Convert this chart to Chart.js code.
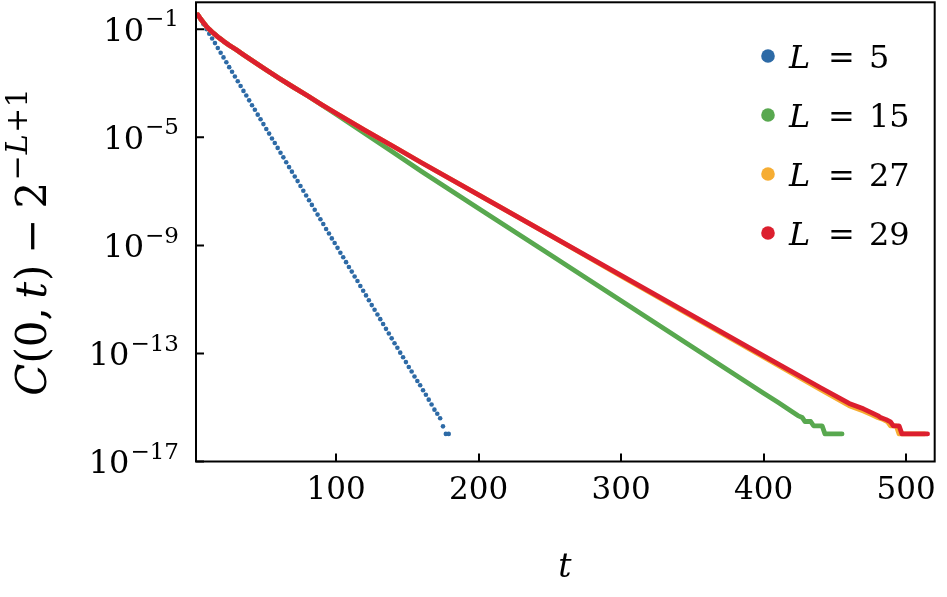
<!DOCTYPE html>
<html><head><meta charset="utf-8">
<script src="https://cdn.jsdelivr.net/npm/chart.js@4.4.1/dist/chart.umd.min.js"></script>
<style>html,body{margin:0;padding:0;background:#fff;}#wrap{width:947px;height:597px;}</style>
</head><body><div id="wrap"><canvas id="c" width="947" height="597"></canvas></div>
<script>
// ---- data (t, C(0,t) - 2^(-L+1)) ----
const tL5 = [3,5,7,9,11,13,15,17,19,21,23,25,27,29,31,33,35,37,39,41,43,45,47,49,51,53,55,57,59,61,63,65,67,69,71,73,75,77,79,81,83,85,87,89,91,93,95,97,99,101,103,105,107,109,111,113,115,117,119,121,123,125,127,129,131,133,135,137,139,141,143,145,147,149,151,153,155,157,159,161,163,165,167,169,171,173,175,177,179];
const cL5 = [3.47e-1,2.34e-1,1.55e-1,1.02e-1,6.92e-2,4.57e-2,3.09e-2,2.04e-2,1.35e-2,9.12e-3,6.03e-3,3.98e-3,2.69e-3,1.78e-3,1.20e-3,7.94e-4,5.25e-4,3.55e-4,2.34e-4,1.55e-4,1.05e-4,6.92e-5,4.68e-5,3.09e-5,2.04e-5,1.38e-5,9.12e-6,6.17e-6,4.07e-6,2.69e-6,1.82e-6,1.20e-6,7.94e-7,5.37e-7,3.55e-7,2.40e-7,1.58e-7,1.05e-7,7.08e-8,4.68e-8,3.16e-8,2.09e-8,1.38e-8,9.33e-9,6.17e-9,4.07e-9,2.75e-9,1.82e-9,1.23e-9,8.13e-10,5.37e-10,3.63e-10,2.40e-10,1.58e-10,1.07e-10,7.08e-11,4.79e-11,3.16e-11,2.09e-11,1.41e-11,9.33e-12,6.17e-12,4.17e-12,2.75e-12,1.86e-12,1.23e-12,8.13e-13,5.50e-13,3.63e-13,2.40e-13,1.62e-13,1.07e-13,7.24e-14,4.79e-14,3.16e-14,2.14e-14,1.41e-14,9.55e-15,6.61e-15,4.37e-15,2.95e-15,1.95e-15,1.29e-15,8.32e-16,5.89e-16,3.98e-16,2.00e-16,1.05e-16,1.05e-16];

const tL15 = [3,5,7,9,11,13,15,17,19,21,25,30,35,40,50,60,70,80,90,100,120,140,160,200,250,300,350,400,410,420,424,427,429,433,435,441,443,455];
const cL15 = [3.47e-1,2.40e-1,1.74e-1,1.29e-1,1.00e-1,7.94e-2,6.46e-2,5.25e-2,4.37e-2,3.63e-2,2.57e-2,1.74e-2,1.15e-2,7.59e-3,3.39e-3,1.55e-3,7.24e-4,3.47e-4,1.58e-4,7.16e-5,1.41e-5,2.82e-6,5.50e-7,2.34e-8,4.57e-10,8.91e-12,1.74e-13,3.39e-15,1.55e-15,6.92e-16,5.01e-16,4.27e-16,3.02e-16,3.02e-16,2.1e-16,2.1e-16,1.05e-16,1.05e-16];

const tL27 = [3,5,7,9,11,13,15,17,19,21,25,30,35,40,50,60,70,80,90,100,120,140,160,200,250,300,350,400,440,460,470,476,480,484,487,489,493,495,513];
const cL27 = [3.47e-1,2.40e-1,1.74e-1,1.29e-1,1.00e-1,7.94e-2,6.46e-2,5.25e-2,4.37e-2,3.63e-2,2.57e-2,1.74e-2,1.15e-2,7.59e-3,3.39e-3,1.55e-3,7.24e-4,3.47e-4,1.62e-4,7.76e-5,1.86e-5,4.68e-6,1.15e-6,7.41e-8,2.40e-9,7.24e-11,2.29e-12,7.24e-14,4.57e-15,1.17e-15,7.41e-16,5.37e-16,4.27e-16,3.55e-16,2.95e-16,2.1e-16,2.1e-16,1.05e-16,1.05e-16];

const tL29 = [3,5,7,9,11,13,15,17,19,21,25,30,35,40,50,60,70,80,90,100,120,140,160,200,250,300,350,400,440,460,470,476,480,482,486,489,491,495,497,515];
const cL29 = [3.47e-1,2.40e-1,1.74e-1,1.29e-1,1.00e-1,7.94e-2,6.46e-2,5.25e-2,4.37e-2,3.63e-2,2.57e-2,1.74e-2,1.15e-2,7.59e-3,3.39e-3,1.55e-3,7.24e-4,3.47e-4,1.62e-4,7.76e-5,1.86e-5,4.68e-6,1.15e-6,7.41e-8,2.40e-9,7.76e-11,2.51e-12,8.13e-14,5.37e-15,1.41e-15,8.91e-16,6.31e-16,5.01e-16,4.27e-16,3.55e-16,2.95e-16,2.1e-16,2.1e-16,1.05e-16,1.05e-16];

const seriesL = ['5','15','27','29'];
const xTickValues = [100,200,300,400,500];
const yTickExponents = [-1,-5,-9,-13,-17];

// ---- styling ----
const COLORS = ['#2d6aa6','#58a84f','#f6ad33','#dc1f2e'];
const SERIF = '"DejaVu Serif", "Liberation Serif", serif';
const TICK_SIZE = 31;
const YTICK_SIZE = 32;

const pts = (ts, cs) => ts.map((t, i) => ({x: t, y: cs[i]}));

const datasets = [
  {label: 'L = ' + seriesL[0], data: pts(tL5, cL5), showLine: false, pointRadius: 2.3, pointHoverRadius: 2.3, pointBorderWidth: 0,
   pointBackgroundColor: COLORS[0], borderColor: COLORS[0], backgroundColor: COLORS[0], order: 4},
  {label: 'L = ' + seriesL[1], data: pts(tL15, cL15), showLine: true, borderWidth: 4.8, pointRadius: 0,
   borderColor: COLORS[1], backgroundColor: COLORS[1], borderCapStyle: 'round', borderJoinStyle: 'round', order: 3},
  {label: 'L = ' + seriesL[2], data: pts(tL27, cL27), showLine: true, borderWidth: 4.8, pointRadius: 0,
   borderColor: COLORS[2], backgroundColor: COLORS[2], borderCapStyle: 'round', borderJoinStyle: 'round', order: 2},
  {label: 'L = ' + seriesL[3], data: pts(tL29, cL29), showLine: true, borderWidth: 4.8, pointRadius: 0,
   borderColor: COLORS[3], backgroundColor: COLORS[3], borderCapStyle: 'round', borderJoinStyle: 'round', order: 1}
];

function font(size, italic) { return (italic ? 'italic ' : '') + size + 'px ' + SERIF; }

function measureRich(ctx, pieces, size) {
  let w = 0;
  for (const p of pieces) {
    const sz = p.s ? size * 0.72 : size;
    ctx.font = font(sz, p.i);
    w += ctx.measureText(p.t).width + (p.g || 0) * size;
  }
  return w;
}
function drawRich(ctx, pieces, x, y, size) {
  for (const p of pieces) {
    const sz = p.s ? size * 0.72 : size;
    ctx.font = font(sz, p.i);
    ctx.fillText(p.t, x, p.s ? y - size * 0.45 : y);
    x += ctx.measureText(p.t).width + (p.g || 0) * size;
  }
}

const decor = {
  id: 'decor',
  afterDatasetsDraw(chart) {
    const ctx = chart.ctx;
    const a = chart.chartArea;
    const xs = chart.scales.x, ys = chart.scales.y;
    ctx.save();
    ctx.strokeStyle = '#000';
    ctx.fillStyle = '#000';
    ctx.lineWidth = 2;
    ctx.strokeRect(a.left + 1, a.top, a.right - a.left - 1, a.bottom - a.top);
    ctx.beginPath();
    for (const v of xTickValues) {
      const px = Math.round(xs.getPixelForValue(v));
      ctx.moveTo(px, a.bottom); ctx.lineTo(px, a.bottom - 8);
    }
    for (const e of yTickExponents) {
      const py = ys.getPixelForValue(Math.pow(10, e));
      ctx.moveTo(a.left + 1, py); ctx.lineTo(a.left + 9, py);
    }
    ctx.stroke();
    // y tick labels 10^e
    ctx.textAlign = 'left';
    ctx.textBaseline = 'alphabetic';
    for (const e of yTickExponents) {
      const py = ys.getPixelForValue(Math.pow(10, e));
      const pieces = [{t: '10', g: 0.03}, {t: '\u2212' + Math.abs(e), s: true}];
      const w = measureRich(ctx, pieces, YTICK_SIZE);
      drawRich(ctx, pieces, 179 - w, py + 11.5, YTICK_SIZE);
    }
    // x title
    ctx.font = font(33, true);
    ctx.textAlign = 'center';
    ctx.fillText('t', (a.left + a.right) / 2, 577);
    // y title
    const yt = [
      {t: 'C', i: true}, {t: '(0,', g: 0.2}, {t: 't', i: true, g: 0.02}, {t: ')', g: 0.25},
      {t: '\u2212', g: 0.25}, {t: '2', g: 0.03},
      {t: '\u2212', s: true, g: 0.02}, {t: 'L', s: true, i: true, g: 0.03}, {t: '+1', s: true}
    ];
    const YS = 42;
    ctx.textAlign = 'left';
    const W = measureRich(ctx, yt, YS);
    ctx.translate(46, 242);
    ctx.rotate(-Math.PI / 2);
    drawRich(ctx, yt, -W / 2, 0, YS);
    ctx.restore();

    // legend
    ctx.save();
    for (let i = 0; i < seriesL.length; i++) {
      const cy = 56 + i * 59;
      ctx.fillStyle = COLORS[i];
      ctx.beginPath();
      ctx.arc(768, cy, 6.8, 0, Math.PI * 2);
      ctx.fill();
      ctx.fillStyle = '#000';
      ctx.textAlign = 'left';
      ctx.font = font(32, true);
      ctx.fillText('L', 789, cy + 12);
      ctx.font = font(32, false);
      ctx.fillText('=', 828, cy + 12);
      ctx.fillText(seriesL[i], 869, cy + 12);
    }
    ctx.restore();
  }
};

new Chart(document.getElementById('c'), {
  type: 'line',
  data: {datasets},
  options: {
    responsive: false,
    devicePixelRatio: 1,
    animation: false,
    events: [],
    layout: {padding: {left: 0, right: 6, top: 1, bottom: 0}},
    plugins: {legend: {display: false}, tooltip: {enabled: false}, title: {display: false}},
    scales: {
      x: {
        type: 'linear', min: 1, max: 520,
        afterBuildTicks: s => { s.ticks = xTickValues.map(v => ({value: v})); },
        afterFit: s => { s.height = 135.5; },
        grid: {display: false, drawTicks: false},
        border: {display: false},
        ticks: {color: '#000', font: {family: SERIF, size: TICK_SIZE}, padding: 11, maxRotation: 0, autoSkip: false,
                callback: v => String(v)}
      },
      y: {
        type: 'logarithmic', min: 1e-17, max: 1,
        afterBuildTicks: s => { s.ticks = yTickExponents.map(e => ({value: Math.pow(10, e)})); },
        afterFit: s => { s.width = 195; },
        grid: {display: false, drawTicks: false},
        border: {display: false},
        ticks: {display: false}
      }
    }
  },
  plugins: [decor]
});
</script></body></html>
